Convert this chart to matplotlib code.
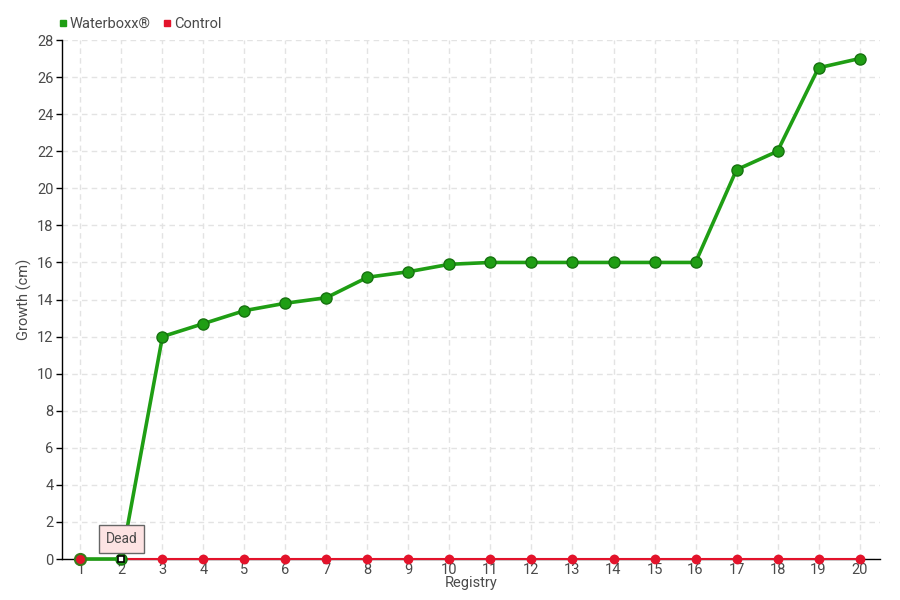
import matplotlib.pyplot as plt
from matplotlib.lines import Line2D

# données
registry = list(range(1, 21))
waterboxx = [0, 0, 12, 12.7, 13.4, 13.8, 14.1, 15.2, 15.5, 15.9,
             16, 16, 16, 16, 16, 16, 21, 22, 26.5, 27]
control = [0] * 20
y_ticks = list(range(0, 29, 2))

plt.rcParams['font.family'] = ['Roboto', 'DejaVu Sans']
text_col = '#4a4a4a'
green = '#1f9e14'
red = '#e3132b'

fig = plt.figure(figsize=(9, 6), dpi=100)
ax = fig.add_axes([0.0689, 0.0683, 0.9089, 0.865])

# grille
ax.set_axisbelow(True)
ax.grid(True, color='#e3e3e3', linestyle=(0, (4, 3)), linewidth=1)

# série contrôle
ax.plot(registry, control, color=red, lw=1.5, marker='o', ms=6,
        mfc=red, mec=red, zorder=3, clip_on=False)
# série Waterboxx
ax.plot(registry[1:], waterboxx[1:], color=green, lw=2.6, marker='o', ms=8,
        mfc=green, mec='#16720f', mew=1, zorder=4, clip_on=False)
ax.plot(registry[:2], waterboxx[:2], color=green, lw=2.6, zorder=4, clip_on=False)
ax.plot(registry[0], control[0], marker='o', ms=8, mfc=red, mec='#3a7a1a', mew=1.5,
        zorder=5, clip_on=False)
ax.plot(registry[1], waterboxx[1], marker='s', ms=4.5, mfc='white', mec='black', mew=1.2,
        zorder=6, clip_on=False)

# annotation "Dead"
ax.annotate('Dead', xy=(registry[1], 0.35), xytext=(registry[1], 1.1),
            ha='center', va='center', fontsize=10, color=text_col,
            bbox=dict(boxstyle='square,pad=0.5', fc='#fde3e3', ec='#666666', lw=1),
            arrowprops=dict(arrowstyle='-', color='#666666', lw=0.8), zorder=7)

ax.set_xlim(0.55, 20.5)
ax.set_ylim(0, 28)
ax.set_xticks(registry)
ax.set_yticks(y_ticks)
ax.tick_params(axis='both', colors='black', labelcolor=text_col, labelsize=10.5, length=4, width=1)
ax.tick_params(axis='x', length=0, pad=3)
ax.tick_params(axis='y', pad=2)
for s in ['top', 'right']:
    ax.spines[s].set_visible(False)
for s in ['left', 'bottom']:
    ax.spines[s].set_color('black')
    ax.spines[s].set_linewidth(1)

ax.set_ylabel('Growth (cm)', color=text_col, fontsize=10.5)
ax.yaxis.set_label_coords(-0.037, 0.5)
ax.set_xlabel('Registry', color=text_col, fontsize=10.5, labelpad=-1)

handles = [Line2D([], [], ls='', marker='s', ms=5, mfc=green, mec=green),
           Line2D([], [], ls='', marker='s', ms=5, mfc=red, mec=red)]
fig.legend(handles, ['Waterboxx®', 'Control'], loc='upper left', bbox_to_anchor=(0.047, 0.993),
           ncol=2, frameon=False, fontsize=10.5, labelcolor=text_col,
           handletextpad=0.0, columnspacing=0.6, handlelength=1.0)

fig.savefig('out.png', dpi=100)
